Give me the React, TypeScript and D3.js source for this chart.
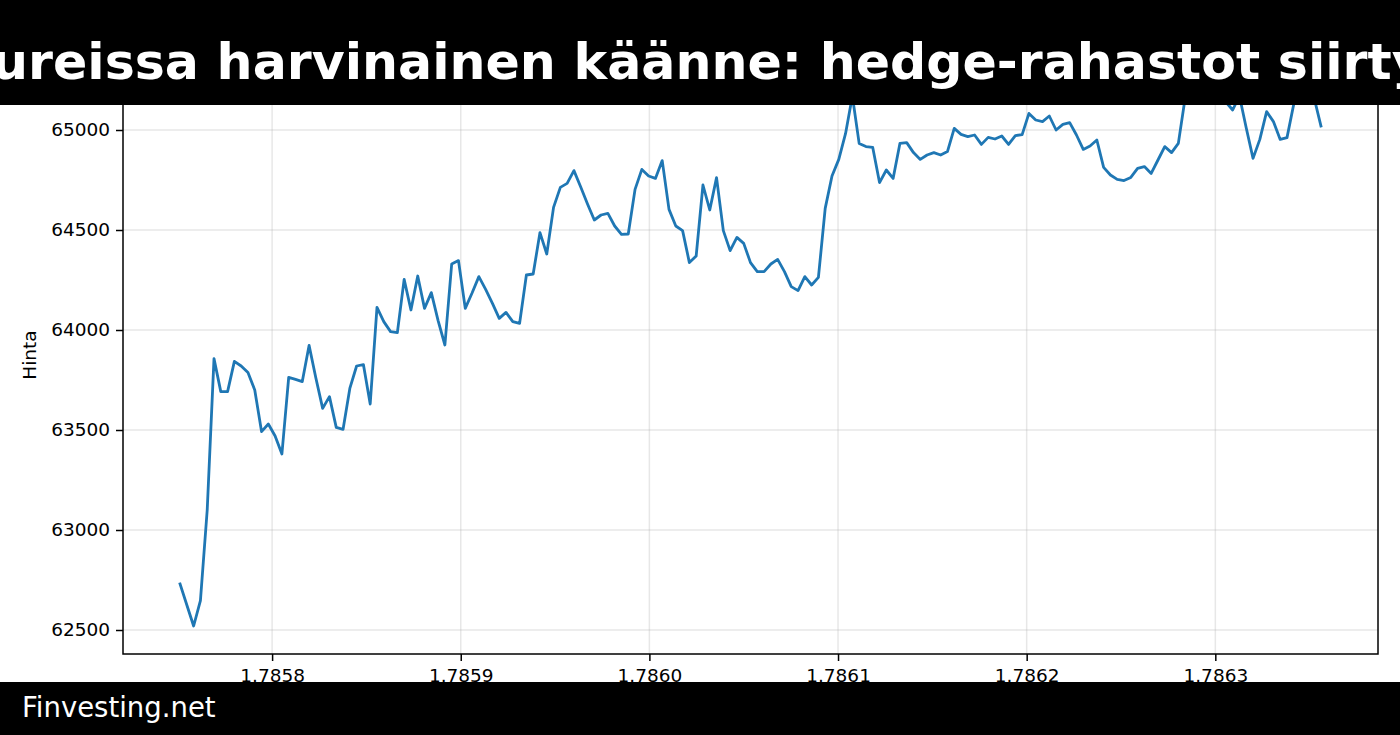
import React, { useEffect, useRef } from 'react';
import * as d3 from 'd3';

// Hourly prices (points under the title bar are estimated)
const prices = [
  62730, 62625, 62520, 62647, 63100, 63857, 63692, 63692, 63843, 63820,
  63787, 63700, 63492, 63530, 63470, 63380, 63763, 63753, 63742, 63923,
  63760, 63608, 63667, 63513, 63503, 63708, 63820, 63827, 63630, 64113,
  64042, 63992, 63987, 64253, 64100, 64270, 64108, 64187, 64047, 63925,
  64330, 64347, 64108, 64185, 64267, 64203, 64133, 64058, 64088, 64042,
  64033, 64275, 64280, 64487, 64380, 64613, 64713, 64733, 64797, 64715,
  64630, 64550, 64575, 64583, 64520, 64478, 64480, 64703, 64803, 64770,
  64758, 64847, 64603, 64520, 64497, 64337, 64370, 64725, 64600, 64762,
  64497, 64397, 64463, 64433, 64337, 64292, 64292, 64330, 64353, 64292,
  64217, 64197, 64267, 64225, 64263, 64608, 64770, 64853, 64983, 65170,
  64933, 64917, 64913, 64737, 64800, 64758, 64933, 64937, 64887, 64853,
  64875, 64887, 64875, 64892, 65008, 64978, 64967, 64975, 64928, 64963,
  64955, 64970, 64928, 64972, 64977, 65083, 65050, 65042, 65070, 65000,
  65028, 65037, 64975, 64903, 64920, 64950, 64813, 64775, 64753, 64747,
  64763, 64808, 64817, 64783, 64850, 64917, 64887, 64933, 65160, 65230,
  65320, 65260, 65210, 65180, 65140, 65100, 65170, 65010, 64858, 64953,
  65092, 65042, 64953, 64962, 65130, 65240, 65280, 65160, 65020,
];
const startTime = 1785751200; // unix seconds of the first point
const stepSeconds = 3600; // one point per hour

const xTicks = [1.7858, 1.7859, 1.786, 1.7861, 1.7862, 1.7863]; // in 1e9 seconds
const yTicks = [62500, 63000, 63500, 64000, 64500, 65000];

const titleText = 'ureissa harvinainen käänne: hedge-rahastot siirty';
const footerText = 'Finvesting.net';
const yLabel = 'Hinta';

const width = 1400;
const height = 735;
// Axes box inside the figure
const margin = {
  top: 38,
  right: 22,
  bottom: 81,
  left: 123,
};
const axisPadding = 0.05; // matplotlib-like data margins
const font = '"DejaVu Sans", sans-serif';
const lineColor = '#1f77b4';

type Point = { t: number; v: number };

const App: React.FC = () => {
  const svgRef = useRef<SVGSVGElement>(null);

  useEffect(() => {
    const svg = d3.select(svgRef.current);
    svg.selectAll('*').remove();

    const data: Point[] = prices.map((v, i) => ({ t: startTime + i * stepSeconds, v }));

    const chartWidth = width - margin.left - margin.right;
    const chartHeight = height - margin.top - margin.bottom;

    // Padded domains
    const [t0, t1] = d3.extent(data, (d) => d.t) as [number, number];
    const tPad = (t1 - t0) * axisPadding;
    const [v0, v1] = d3.extent(data, (d) => d.v) as [number, number];
    const vPad = (v1 - v0) * axisPadding;

    const x = d3.scaleLinear()
      .domain([t0 - tPad, t1 + tPad])
      .range([0, chartWidth]);
    const y = d3.scaleLinear()
      .domain([v0 - vPad, v1 + vPad])
      .range([chartHeight, 0]);

    svg.append('rect')
      .attr('width', width)
      .attr('height', height)
      .attr('fill', '#ffffff');

    const g = svg.append('g')
      .attr('transform', `translate(${margin.left},${margin.top})`);

    // Grid
    const grid = g.append('g')
      .attr('stroke', '#b0b0b0')
      .attr('stroke-opacity', 0.3)
      .attr('stroke-width', 1.5);
    grid.selectAll('.gy')
      .data(yTicks)
      .join('line')
      .attr('x1', 0)
      .attr('x2', chartWidth)
      .attr('y1', (d) => y(d))
      .attr('y2', (d) => y(d));
    grid.selectAll('.gx')
      .data(xTicks)
      .join('line')
      .attr('x1', (d) => x(d * 1e9))
      .attr('x2', (d) => x(d * 1e9))
      .attr('y1', 0)
      .attr('y2', chartHeight);

    // Price line
    const line = d3.line<Point>()
      .x((d) => x(d.t))
      .y((d) => y(d.v));

    g.append('path')
      .datum(data)
      .attr('d', line)
      .attr('fill', 'none')
      .attr('stroke', lineColor)
      .attr('stroke-width', 2.8)
      .attr('stroke-linejoin', 'round')
      .attr('stroke-linecap', 'square');

    // Axes
    const yAxis = g.append('g')
      .call(d3.axisLeft(y).tickValues(yTicks).tickSize(7).tickPadding(6)
        .tickFormat((d) => String(d)));
    const xAxis = g.append('g')
      .attr('transform', `translate(0,${chartHeight})`)
      .call(d3.axisBottom(x).tickValues(xTicks.map((d) => d * 1e9)).tickSize(7).tickPadding(8)
        .tickFormat((d) => (Number(d) / 1e9).toFixed(4)));

    [yAxis, xAxis].forEach((a) => {
      a.select('.domain').remove();
      a.selectAll('line').attr('stroke', '#000').attr('stroke-width', 1.5);
      a.selectAll('text')
        .attr('fill', '#000')
        .style('font-family', font)
        .style('font-size', '18.5px');
    });

    // Box
    g.append('rect')
      .attr('width', chartWidth)
      .attr('height', chartHeight)
      .attr('fill', 'none')
      .attr('stroke', '#000')
      .attr('stroke-width', 1.5);

    // Y label
    svg.append('text')
      .attr('transform', 'translate(36,355) rotate(-90)')
      .attr('text-anchor', 'middle')
      .style('font-family', font)
      .style('font-size', '18.5px')
      .text(yLabel);

    // Title band
    svg.append('rect')
      .attr('width', width)
      .attr('height', 105)
      .attr('fill', '#000');
    svg.append('text')
      .attr('x', -8)
      .attr('y', 79)
      .attr('fill', '#fff')
      .style('font-family', font)
      .style('font-weight', 'bold')
      .style('font-size', '50.6px')
      .text(titleText);

    // Footer band
    svg.append('rect')
      .attr('y', 682)
      .attr('width', width)
      .attr('height', height - 682)
      .attr('fill', '#000');
    svg.append('text')
      .attr('x', 22)
      .attr('y', 717)
      .attr('fill', '#fff')
      .style('font-family', font)
      .style('font-size', '27.5px')
      .text(footerText);
  }, []);

  return (
    <div style={{ position: 'fixed', left: 0, top: 0 }}>
      <svg ref={svgRef} width={width} height={height} style={{ display: 'block' }} />
    </div>
  );
};

export default App;
